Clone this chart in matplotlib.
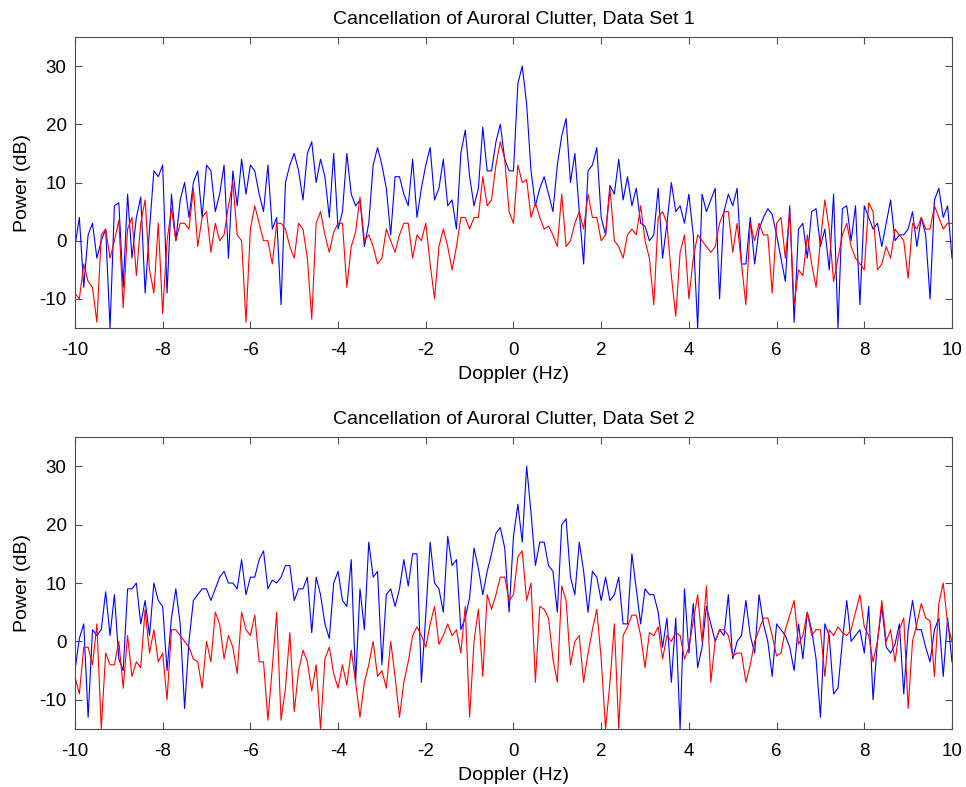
import matplotlib
matplotlib.use("Agg")
import matplotlib.pyplot as plt
import numpy as np

# Doppler axis, 0.1 Hz steps from -10 to 10 Hz
doppler = np.round(np.arange(-100, 101) * 0.1, 1)

# Data set 1 (dB)
before1 = [-1, 4, -8, 1, 3, -3, 0, 2, -15, 6, 6.5, -8, 8, -3, 4, 7.5, -9, 2, 12, 11,
           13, -9, 8, 0, 7, 10, 4, 10, 12, 4, 13, 12, 5, 8, 13, -3, 12, 6, 14, 8,
           13, 12, 8, 5, 13, 2, 4, -11, 10, 13, 15,
           12, 7, 15, 17, 10, 14, 11, 4, 15, 2, 5, 15, 8, 6, 7, -1, 3, 13, 16, 13,
           9, 1, 11, 11, 8, 6, 14, 4, 9, 13, 16, 7, 9, 14, 6, 7, 2, 15, 19, 11,
           6, 9, 19.5, 12, 12, 17, 20, 14, 12, 12,
           27, 30, 23.5, 12, 6, 9, 11, 8, 5, 13, 18, 21, 10, 15, 5, -4, 12, 13, 16, 4,
           1, 9.5, 8, 14, 7, 11, 6, 9, 3, 2.5, 0, 1, 9, -3, 3, 10, 5, 6, 3, 8,
           1, -15, 8, 5, 7, 9, -10, 5, 8, 6,
           9, -4, -4, 4, -4, 2, 4, 5.5, 4.5, 1, -3, -7, 6, -14, 2, 3, -3, 5, 5.5, -1,
           2, -5, 8, -15, 5.5, 6, 0, 6, -11, 6, 4, 2, 3, -1, 3, 7, 0, 1, 1, 2,
           5, -1, 4, 1, -10, 7, 9, 4, 6, -3]
after1 = [-9, -10, -4, -7, -8, -14, 1, 2, -3, 0, 3.5, -11.5, 2, 4, -6, 3, 7, -5, -9, 3,
          -12.5, 0, 5.5, 0, 3, 3, 2, 9, -1, 4, 5, -2, 3, 0, 1, 6, 10, 1, 0, -14,
          2, 6, 3, 0, 0, -4, 3, 3, 2, -1, -3,
          3, 2, -3, -13.5, 3, 5, 1, -2, 1.5, 3, 3, -8, -1, 1.5, 7.5, 0, 1, -1, -4, -3,
          2, 0, -2, 1, 3, 3, -3, 1, 0, 3, -4, -10, -1, 2, -1, -5, -1, 4, 4, 2,
          4, 4, 11, 6, 7, 13, 17, 14, 5, 3,
          13, 10, 10.5, 4, 6.5, 4, 2, 2.5, 1, -1, 8, -1, 0, 3, 5, 2, 8, 4, 4, 0,
          1, 9, 0, -1, -3, 1, 2, 1, 6, 0, -3, -11, 4, 5, 3, -6, -13, -2, 1, -10,
          -3, 1, 0, -1, -2, -1, 3, 5, 5, -2,
          3, -4, -11, 3, 0, 3, 1, 1, -9, 3, 4, -3, 5, -11, -5, -6, 1, -4, -8, 0,
          7, 2, -7, -3, 1, 3, -1, -3, -4, -5, 6.5, 5, -5, -4, -1, -3, 2, 1, 0, -6.5,
          3, 2, 4, 2, 2, 6, 4, 2, 3, 3]

# Data set 2
before2 = [-5, 0.5, 3, -13, 2, 1, 2, 8.5, 1, 8, -3, -5, 9, 9, 10, 3, 7, 1, 10, 7,
           6, -5, 4, 9, 3, -11.5, 0, 7, 8, 9, 9, 7, 9, 11, 12, 10, 10, 9, 14, 8,
           11, 11, 14, 15.5, 9, 10.5, 10, 11, 13, 13, 7,
           9, 9, 11, 1.5, 11, 8, 3, 0.5, 10, 12, 7, 6, 14, -7, 9, 2, 17, 11, 12, -4,
           8, 9, 6, 9, 14, 9.5, 15, 15, -7, 4.5, 17, 10, 9, 5, 18, 13, 14, 2, 4, 7.5,
           16, 12.5, 8, 12, 15, 18.5, 19.5, 16, 5, 18,
           23.5, 17, 30, 22, 13, 17, 17, 13, 12, 5, 20, 21, 11, 8, 17, 12, 5, 12, 11, 7,
           11, 7, 8, 11, 3, 3, 15, 9, 3, 9, 8, 8, 5, -1, 4, -7, 4, -15, 9, -2,
           6.5, -4.5, -1, 6, 3, 0, 2, 1, 8, -3,
           0, 1, 7, 1, -2, 8, 3, 0, -6, 3, 2, 1, -1, -5, 3, -3, 5, 2, -3, -13,
           3, 1, -9, -8, 0, 7, 0, 1, 2, -2, 6, -10, 0, 6, -1, -2, -0.5, 3, -9, 2,
           7, 2, 2, -1, -3.5, 2, 4, -6, 4, -3.5]
after2 = [-6, -9, -1, -1, -4, 3, -15, -2, -4, -4, 0, -8, 1, -6, -3.5, -4.5, 5.5, -2, 2, -3.5,
          -2, -10, 2, 2, 1, 0, -1, -3, -3.5, -8, 0, -3.5, 5, 3, -3, 1, -1, -5.5, 5, 2,
          1, 4.5, -3.5, -3.5, -13.5, -4.5, 5, -13.5, -8, 1.5, -12,
          -5, -1.5, -3.5, -8.5, -4, -15, -3, -1, -5.5, -8, -4, -7.5, -1.5, -7, -13, -7, -4, 0, -6, -5,
          -8, 0, -6, -13, -7, -3.5, 1, 2.5, 1, -1, 3, 6, -0.5, 1, 3, 1, 2, -2, 6, -13,
          0, 5.5, -6, 8, 5.5, 8, 11, 11, 7, 8,
          14.5, 15.5, 7, 10, -7, 6, 5.5, 4, -3, -7, 9.5, 7, -4, 0, 1, -7, -2, 2, 5.5, -3,
          -15, -7, 3, -15, 1, 2.5, 4.5, 4.5, 1, -4.5, 1.5, 1, 2.5, -3, 1, 0, 1.5, 1, -3, -1,
          3.5, 8, 0, 9.5, -7, 0, 2, 2, 1, -2.5,
          -2, -2, -7, -4, 0, 2, 4, 4, 1, -2.5, -2, 2, 4.5, 7, -0.5, 1, 5, 1, 2, 2,
          -6, 2, 1, 2.5, 1.5, 1, 2, 5, 8, 2.5, 1, -3.5, 0, 7, 0, 2, -3.5, 2, 4, -11.5,
          0, 3, 6.5, 4, 3.5, -6, 6.5, 10, 3, 0]

titles = ["Cancellation of Auroral Clutter, Data Set 1",
          "Cancellation of Auroral Clutter, Data Set 2"]

plt.rcParams['font.family'] = ['Liberation Sans', 'DejaVu Sans']
plt.rcParams['axes.unicode_minus'] = False

fig = plt.figure(figsize=(9.66, 7.87), dpi=100)
ax1 = fig.add_axes([0.0776, 0.5832, 0.9079, 0.3698])
ax2 = fig.add_axes([0.0776, 0.0737, 0.9079, 0.3710])

for ax, b, a, t in [(ax1, before1, after1, titles[0]), (ax2, before2, after2, titles[1])]:
    ax.plot(doppler, b, color='blue', lw=0.8)
    ax.plot(doppler, a, color='red', lw=0.8)
    ax.set_xlim(-10, 10)
    ax.set_ylim(-15, 35)
    ax.set_xticks(range(-10, 11, 2))
    ax.set_yticks([-10, 0, 10, 20, 30])
    ax.tick_params(direction='in', top=True, right=True, labelsize=13.5, length=5,
                   color='0.3')
    ax.tick_params(axis='x', pad=10)
    ax.tick_params(axis='y', pad=6)
    ax.set_xlabel('Doppler (Hz)', fontsize=14, labelpad=5)
    ax.set_ylabel('Power (dB)', fontsize=14, labelpad=6)
    ax.set_title(t, fontsize=14, pad=10)
    for s in ax.spines.values():
        s.set_linewidth(0.8)
        s.set_color('0.3')

fig.savefig('out.png', dpi=100)
